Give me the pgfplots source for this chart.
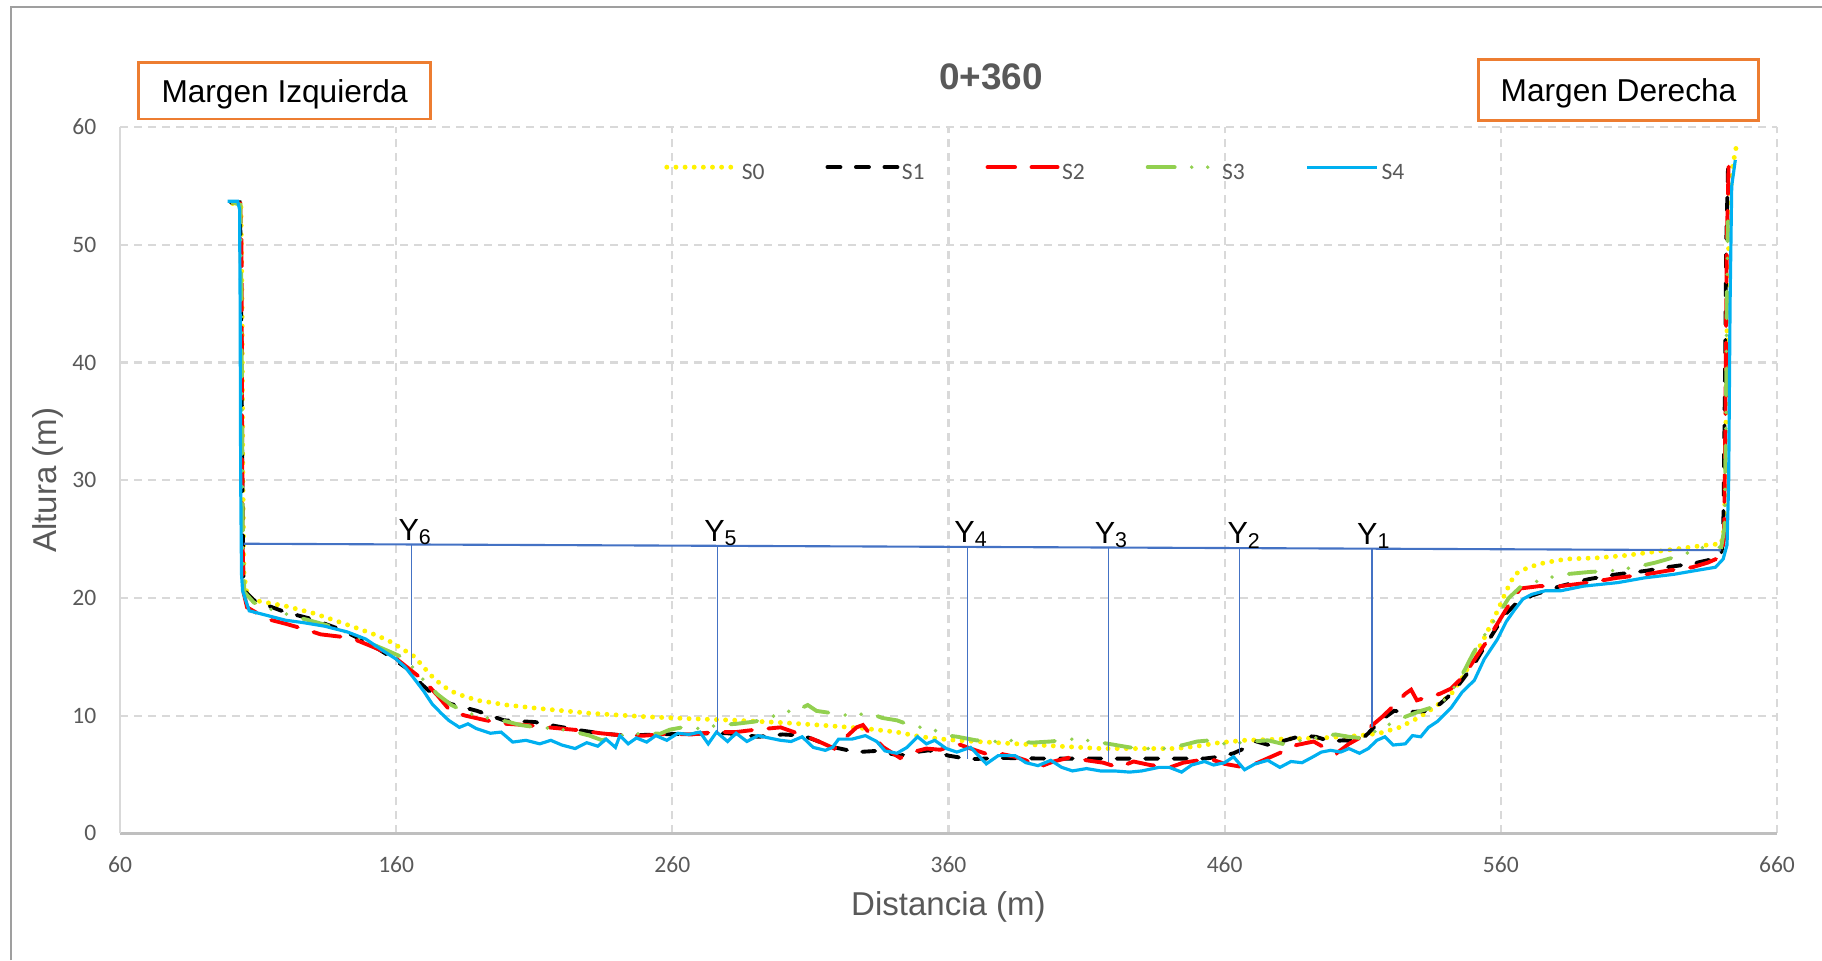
\documentclass[border=0pt]{standalone}
\usepackage{fontspec}
\setmainfont{Liberation Sans}
\newfontfamily\calibri{Carlito}
\usepackage{pgfplots}
\pgfplotsset{compat=1.18}
\definecolor{gridc}{HTML}{D9D9D9}
\definecolor{txtc}{HTML}{595959}
\definecolor{orng}{HTML}{ED7D31}
\definecolor{wline}{HTML}{4472C4}
\definecolor{sfour}{HTML}{00B0F0}
\definecolor{sthree}{HTML}{92D050}
\definecolor{axc}{HTML}{BFBFBF}
\begin{document}
\begin{tikzpicture}
\useasboundingbox (0,0) rectangle (18.22cm,9.6cm);
\draw[gray!75, line width=0.5pt] (0.112cm,0) -- (0.112cm,9.527cm) -- (18.22cm,9.527cm);
\begin{axis}[
  at={(1.20cm,1.267cm)}, anchor=south west, scale only axis,
  width=16.57cm, height=7.063cm,
  xmin=60, xmax=660, ymin=0, ymax=60,
  xtick={60,160,...,660}, ytick={0,10,...,60},
  grid=major,
  major grid style={gridc, dash pattern=on 0.8mm off 0.6mm, line width=0.6pt},
  axis x line*=bottom, axis y line*=left,
  axis line style={-},
  x axis line style={axc, line width=1pt, -},
  y axis line style={gridc, line width=0.6pt, -},
  major tick length=0pt,
  tick label style={font=\calibri\fontsize{6.7}{8}\selectfont, text=txtc},
  every x tick label/.append style={inner sep=0pt, yshift=-2.3mm},
  every y tick label/.append style={inner sep=0pt, xshift=-2.3mm},
  /pgf/number format/assume math mode=true,
  xlabel={Distancia (m)}, ylabel={Altura (m)},
  label style={font=\fontsize{9.4}{11}\selectfont, text=txtc},
  xlabel style={at={([yshift=-8.2mm]axis description cs:0.5,0)}, anchor=base},
  ylabel style={at={([xshift=-6.3mm]axis description cs:0,0.5)}, anchor=base},
  legend columns=5,
  legend cell align=left,
  legend image code/.code={\draw[#1] (0mm,2.1pt) -- (7mm,2.1pt);},
  legend style={at={(axis description cs:0.3285,0.9327)}, anchor=west,
    draw=none, fill=none, inner sep=0pt, outer sep=0pt, column sep=0pt,
    nodes={inner sep=0pt, text=txtc, font=\calibri\fontsize{6.7}{8}\selectfont},
    /tikz/every odd column/.append style={column sep=0.25mm},
    /tikz/every even column/.append style={column sep=6.1mm}},
]
% S0
\addplot[yellow, line width=1.4pt, dash pattern=on 0pt off 2.6pt, line cap=round] coordinates {
(100.8,53.5) (103.8,53.2) (104.2,45) (104.5,30) (104.9,22) (106,20.3) (108.5,19.8) (120,19.3) (130,18.7)
(137.6,18.1) (145,17.5) (152,16.9) (157,16.4) (162,15.7) (166.7,15.0) (170,14.1) (173.1,13.3) (176,12.7)
(179.6,12.1) (184,11.7) (189.3,11.3) (200,10.9) (211.9,10.6) (230,10.2) (250.7,9.9) (265,9.75) (283.1,9.6)
(300,9.4) (315.4,9.16) (330,8.9) (341.3,8.6) (350,8.2) (360,7.95) (370,7.8) (385,7.6) (400,7.4) (415.3,7.2)
(430,7.2) (442.3,7.2) (450,7.4) (458,7.7) (467.1,7.9) (480,8.0) (495,8.1) (508.8,8.3) (516,8.5) (523.3,9.0)
(530,9.8) (536,10.7) (542.1,11.85) (546,13.2) (550.4,15.0) (554,16.6) (558.8,18.9) (562,20.6) (565,22.0)
(570,22.6) (576,23.0) (583.8,23.3) (595,23.4) (605,23.6) (615,23.9) (625,24.2) (635,24.5) (639.8,24.6)
(641,26) (641.5,35) (642,45) (642.8,53) (643.8,56.5) (645.3,58.4)};
\addlegendentry{S0}
% S1
\addplot[black, line width=1.1pt, dash pattern=on 1.3mm off 1.55mm, line cap=round] coordinates {
(100,53.6) (103.3,53.6) (103.7,50) (104,40) (104.3,30) (104.6,22) (105.5,20.5) (108.5,19.8) (114,19.3)
(119.7,18.8) (129.5,18.2) (140,17.3) (150.5,16.1) (158,15.0) (165.1,13.8) (169,12.7) (173.1,11.85)
(179.6,11.0) (189.3,10.4) (199,9.6) (210.3,9.45) (218,9.1) (226.5,8.75) (234,8.5) (242.6,8.3) (255,8.4)
(266.9,8.46) (280,8.5) (291.2,8.2) (300,8.4) (307.3,8.3) (313,7.8) (318.7,7.3) (326.7,6.9) (334,7.0)
(342.5,6.6) (348,6.9) (352.9,7.05) (360,6.6) (367.5,6.3) (380,6.4) (394.5,6.35) (410,6.35) (425.6,6.35)
(440,6.35) (452.7,6.35) (458,6.5) (463.2,6.8) (467,7.2) (471.5,7.8) (476,7.5) (482,7.9) (488,8.3)
(493,8.2) (498.4,7.8) (503,7.9) (508.8,7.8) (512,8.5) (516,9.5) (521.3,10.4) (527,10.3) (533.8,10.4)
(538,11.0) (542.1,11.85) (546,13.0) (550.4,14.4) (554.5,16.0) (558.8,17.6) (562,18.7) (565,19.4)
(571.2,20.2) (581.6,21.0) (592,21.6) (602,22.0) (612.7,22.3) (620,22.6) (629.3,22.9) (635,23.2)
(639.8,23.7) (640.5,25) (641,35) (641.6,50) (642.3,57)};
\addlegendentry{S1}
% S2
\addplot[red, line width=1.1pt, dash pattern=on 2.75mm off 1.65mm, line cap=round] coordinates {
(100.5,53.6) (103.5,53.5) (104,50) (104.2,35) (104.4,25) (104.7,20.5) (106,19.2) (113.4,18.2) (120,17.8)
(126,17.4) (132.7,16.9) (140,16.7) (145.7,16.4) (152,15.8) (158.6,15.1) (164,14.1) (169.9,13.0) (175,11.7)
(179.6,10.4) (185,10.0) (192.5,9.6) (200,9.3) (207,9.2) (215.2,9.0) (226.5,8.75) (234,8.5) (242.6,8.3)
(250,8.3) (258.8,8.46) (267,8.4) (275,8.6) (283,8.6) (290,8.8) (299.2,9.0) (304,8.6) (308.9,8.2) (314,7.7)
(318.7,7.2) (323,8.2) (326.7,9.0) (329,9.2) (331.5,8.46) (336.5,7.3) (342.5,6.4) (347,6.9) (352,7.2)
(357,7.1) (363.3,7.6) (368,7.2) (373.7,6.75) (378,6.8) (384.1,6.5) (388,6.2) (392.4,5.6) (398,6.1)
(404.9,6.5) (410,6.2) (416,6.0) (421.5,5.6) (427,6.1) (433,5.8) (440.2,5.6) (445,6.0) (450.6,6.2)
(455,6.3) (460,5.9) (467.2,5.6) (472,6.0) (479.7,6.8) (486,7.5) (492.2,7.8) (496,7.3) (500.5,6.8)
(505,7.6) (508.8,8.1) (512,8.9) (517.1,9.9) (521,10.8) (525.4,11.85) (527.5,12.2) (529.6,11.3)
(534,11.6) (537.9,11.85) (542,12.3) (546.3,13.3) (550,14.6) (554.6,16.2) (559,17.9) (562.9,19.4)
(567.1,20.8) (574,21.0) (581.6,21.0) (592,21.3) (602,21.7) (612.7,22.0) (620,22.3) (629.3,22.6)
(635,23.0) (639.8,23.5) (640.8,25) (641.3,35) (641.8,50) (642.5,57)};
\addlegendentry{S2}
% S3
\addplot[sthree, line width=1.1pt, dash pattern=on 2.7mm off 1.7mm on 0pt off 1.6mm on 0pt off 1.7mm, line cap=round] coordinates {
(100.5,53.6) (103.6,53.4) (104,45) (104.2,35) (104.5,25) (105,20.5) (108.5,19.6) (115,19.0) (122,18.5)
(130,18.0) (137.6,17.5) (145,16.8) (152,16.0) (157,15.5) (161.8,15.0) (166,14.1) (170,13.0) (175,11.8)
(180,10.9) (186.1,10.2) (193,9.8) (200,9.5) (205,9.2) (210.8,9.0) (218,8.9) (225,8.6) (230,8.3)
(234.6,7.9) (240,8.3) (245,8.4) (250,8.5) (255.6,8.46) (259,8.8) (263.6,9.0) (270,8.9) (277,9.2)
(283.1,9.3) (290,9.5) (295,9.8) (299.2,10.2) (303,10.4) (305,10.8) (307.3,10.7) (309,10.9) (312.2,10.4)
(318,10.2) (324,10.0) (331.5,10.2) (336,9.8) (341.3,9.6) (346,9.2) (350,9.0) (355,8.75) (360,8.3)
(363.3,8.2) (370,7.9) (377,7.8) (384.1,7.9) (390,7.7) (397,7.8) (404.9,8.0) (410,7.9) (418,7.6)
(425.6,7.3) (432,7.2) (438.2,7.2) (445,7.5) (450,7.8) (454.8,7.9) (460,7.6) (466,7.7) (470,7.8)
(475.6,7.9) (481,7.6) (488,7.9) (495,8.2) (500,8.4) (505,8.2) (508.8,8.1) (514,8.6) (520,9.3)
(525.4,9.9) (531,10.4) (537.9,10.9) (542,12.0) (546.3,13.6) (550,15.3) (554,16.8) (558.8,18.5)
(562.9,20.0) (567,20.9) (575.4,21.6) (583,22.0) (592,22.2) (600,22.3) (608.6,22.6) (616,23.0)
(625,23.6) (633.4,24.3) (639.8,24.3) (641,26) (641.5,35) (641.8,45) (642.2,52)};
\addlegendentry{S3}
% S4
\addplot[sfour, line width=0.9pt] coordinates {
(99,53.7) (102.6,53.7) (103.3,53) (103.5,45) (103.7,30) (104,22) (104.4,20.6) (106.8,18.9) (113.4,18.5)
(120,18.1) (126.3,17.9) (134,17.6) (142.4,17.1) (149,16.5) (155.3,15.5) (160,14.8) (163.3,14.1)
(166,13.3) (169.9,12.1) (173,11.0) (176.3,10.2) (179,9.6) (182.9,9.0) (186,9.3) (189,8.9) (194.1,8.5)
(198,8.6) (202.2,7.75) (207,7.9) (212,7.6) (216,7.9) (220,7.5) (224.8,7.2) (229,7.7) (233,7.4) (236,8.0)
(239.4,7.3) (241,8.3) (244,7.6) (247,8.1) (250.7,7.75) (254,8.3) (258,7.9) (262,8.5) (266,8.4) (270,8.6)
(273,7.6) (276,8.6) (280,7.8) (283.1,8.5) (287,7.8) (291,8.3) (295,8.1) (299.2,7.9) (303,7.8) (307,8.2)
(311,7.3) (315.4,7.05) (318,7.3) (320.2,8.0) (325,8.0) (329.9,8.3) (334,7.8) (337,7.0) (341.3,6.8)
(345,7.3) (348.8,8.2) (352,7.6) (355,7.9) (359.2,7.2) (363,6.9) (368,7.3) (373.7,5.9) (378,6.6)
(384.1,6.6) (388,6.0) (392.4,5.75) (397,6.2) (401,5.6) (404.9,5.3) (410,5.5) (415,5.3) (420,5.3)
(425.6,5.2) (430,5.3) (436.1,5.6) (440,5.6) (444.4,5.2) (448,5.8) (452.7,6.1) (456,5.8) (460,6.0)
(463.2,6.5) (467.2,5.4) (471,5.9) (475.6,6.2) (480,5.6) (484,6.1) (488,6.0) (492,6.5) (495,6.9)
(498.4,7.05) (502,6.9) (505,7.2) (508.8,6.8) (512,7.2) (515.1,7.9) (518,8.2) (521,7.5) (525.4,7.6)
(528,8.3) (531,8.2) (533.8,9.0) (537,9.5) (542.1,10.7) (546,12.0) (550.4,13.0) (554,14.8) (558.8,16.5)
(562,18.0) (565,19.0) (568,19.9) (571.2,20.3) (576,20.6) (581.6,20.6) (590,21.0) (602.4,21.3)
(612,21.7) (622.6,22.0) (630,22.3) (637.7,22.6) (640.5,23.3) (641.9,24.5) (642.5,30) (643,45)
(643.6,55) (644.9,57.2)};
\addlegendentry{S4}
% water line and verticals
\addplot[wline, line width=0.6pt, forget plot] coordinates {(104.8,24.6) (639.8,24.05)};
\addplot[wline, line width=0.45pt, forget plot] coordinates {(165.6,24.54) (165.6,14.3)};
\addplot[wline, line width=0.45pt, forget plot] coordinates {(276.3,24.42) (276.3,8.5)};
\addplot[wline, line width=0.45pt, forget plot] coordinates {(366.9,24.33) (366.9,6.35)};
\addplot[wline, line width=0.45pt, forget plot] coordinates {(418.0,24.28) (418.0,6.06)};
\addplot[wline, line width=0.45pt, forget plot] coordinates {(465.4,24.23) (465.4,6.62)};
\addplot[wline, line width=0.45pt, forget plot] coordinates {(513.4,24.18) (513.4,9.02)};
\node[anchor=base west, inner sep=0pt, font=\fontsize{8.7}{10}\selectfont] at (axis cs:160.6,24.9) {Y\textsubscript{6}};
\node[anchor=base west, inner sep=0pt, font=\fontsize{8.7}{10}\selectfont] at (axis cs:271.3,24.75) {Y\textsubscript{5}};
\node[anchor=base west, inner sep=0pt, font=\fontsize{8.7}{10}\selectfont] at (axis cs:361.9,24.68) {Y\textsubscript{4}};
\node[anchor=base west, inner sep=0pt, font=\fontsize{8.7}{10}\selectfont] at (axis cs:412.7,24.63) {Y\textsubscript{3}};
\node[anchor=base west, inner sep=0pt, font=\fontsize{8.7}{10}\selectfont] at (axis cs:460.8,24.58) {Y\textsubscript{2}};
\node[anchor=base west, inner sep=0pt, font=\fontsize{8.7}{10}\selectfont] at (axis cs:507.7,24.53) {Y\textsubscript{1}};
\end{axis}
\node[draw=orng, line width=0.8pt, minimum width=2.924cm, minimum height=0.563cm, inner sep=0pt, text depth=0pt, font=\fontsize{9}{11}\selectfont] at (2.846cm,8.692cm) {Margen Izquierda};
\node[draw=orng, line width=0.8pt, minimum width=2.80cm, minimum height=0.614cm, inner sep=0pt, text depth=0pt, font=\fontsize{9}{11}\selectfont] at (16.185cm,8.70cm) {Margen Derecha};
\node[anchor=base, inner sep=0pt, text=txtc, font=\bfseries\fontsize{10.5}{12}\selectfont] at (9.91cm,8.71cm) {0+360};
\end{tikzpicture}
\end{document}
